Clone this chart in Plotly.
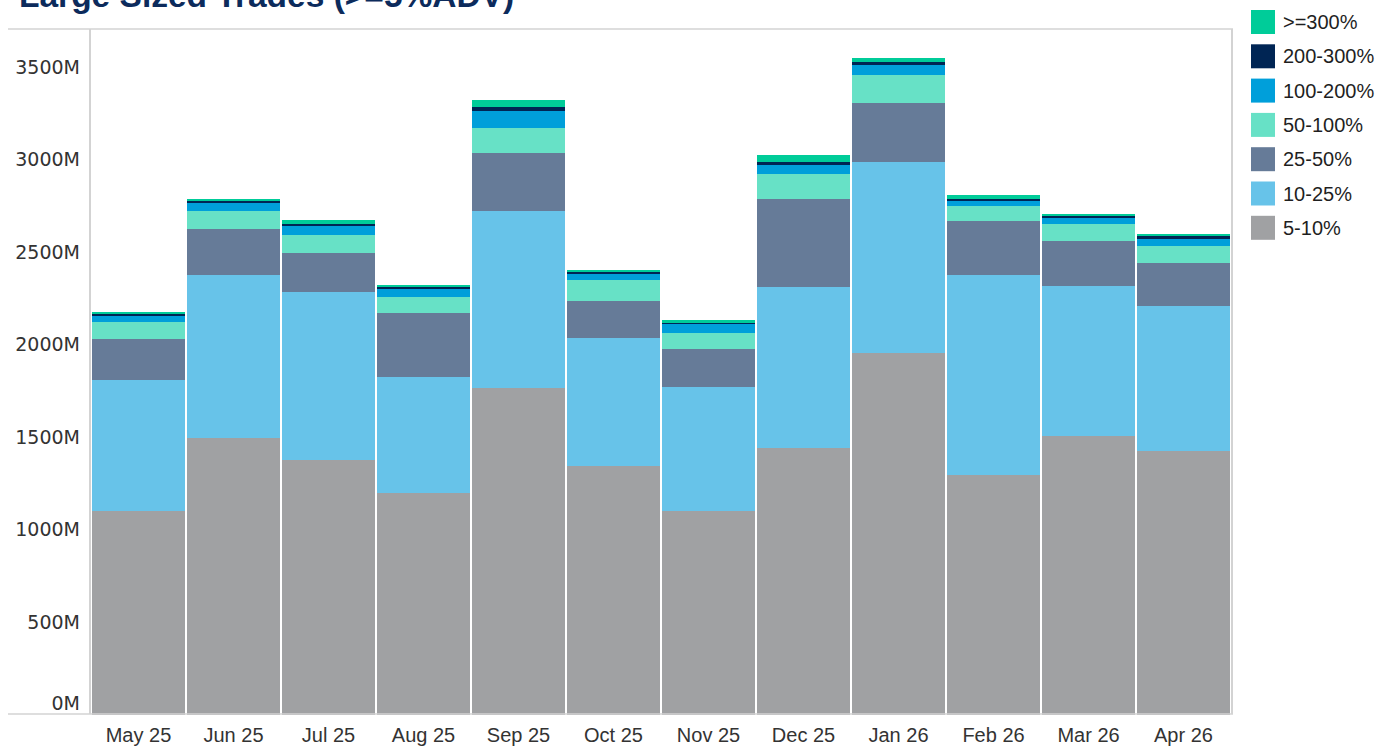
import plotly.graph_objects as go

months = ["May 25", "Jun 25", "Jul 25", "Aug 25", "Sep 25", "Oct 25",
          "Nov 25", "Dec 25", "Jan 26", "Feb 26", "Mar 26", "Apr 26"]

band_names = ["5-10%", "10-25%", "25-50%", "50-100%", "100-200%", "200-300%", ">=300%"]
s5_10 = [1100, 1496, 1377, 1197, 1767, 1345, 1100, 1442, 1954, 1296, 1507, 1426]
s10_25 = [708, 880, 907, 627, 955, 690, 670, 869, 1032, 1080, 809, 782]
s25_50 = [222, 248, 211, 346, 313, 200, 206, 475, 319, 292, 243, 233]
s50_100 = [92, 98, 97, 87, 135, 114, 86, 136, 152, 81, 92, 91]
s100_200 = [32, 48, 49, 43, 92, 37, 49, 48, 54, 27, 38, 44]
s200_300 = [11, 6, 10, 11, 22, 6, 11, 16, 16, 10, 6, 10]
s300 = [11, 10, 22, 11, 38, 11, 10, 38, 22, 22, 10, 11]
series = [s5_10, s10_25, s25_50, s50_100, s100_200, s200_300, s300]

colors = ["#A0A1A3", "#67C3E9", "#667B98", "#67E1C6", "#009FDA", "#002554", "#00CC99"]

y_ticks = [0, 500, 1000, 1500, 2000, 2500, 3000, 3500]
y_tick_labels = [f"{v}M" for v in y_ticks]

title_text = "Large Sized Trades (>=5%ADV)"

W, H = 1390, 748
L, R, T, B = 91, 1231, 29, 715


def px(x):
    return (x - L) / (R - L)


def py(y):
    return (B - y) / (B - T)


fig = go.Figure()
for name, vals, col in zip(band_names, series, colors):
    fig.add_trace(go.Bar(x=months, y=vals, name=name, marker_color=col,
                         marker_line_width=0, showlegend=False))
# invisible helper so the overlay axis (carrying the shifted "0M" label) is drawn
fig.add_trace(go.Scatter(x=months[:1], y=y_ticks[:1], yaxis="y2", mode="markers",
                         marker=dict(opacity=0), hoverinfo="skip", showlegend=False))

shapes = []
annotations = []
# frame lines
line_col = "#d3d3d3"
shapes.append(dict(type="line", xref="paper", yref="paper", x0=px(8), x1=px(1233),
                   y0=py(29), y1=py(29), line=dict(color=line_col, width=1.5)))
shapes.append(dict(type="line", xref="paper", yref="paper", x0=px(8), x1=px(1233),
                   y0=py(714), y1=py(714), line=dict(color=line_col, width=1.5)))
shapes.append(dict(type="line", xref="paper", yref="paper", x0=px(90), x1=px(90),
                   y0=py(29), y1=py(714), line=dict(color=line_col, width=2)))
shapes.append(dict(type="line", xref="paper", yref="paper", x0=px(1232), x1=px(1232),
                   y0=py(29), y1=py(714), line=dict(color=line_col, width=2)))

# custom legend (top to bottom)
for i, (name, col) in enumerate(zip(band_names[::-1], colors[::-1])):
    cy = 22 + 34.3 * i
    shapes.append(dict(type="rect", xref="paper", yref="paper",
                       x0=px(1251), x1=px(1275), y0=py(cy + 12), y1=py(cy - 12),
                       fillcolor=col, line=dict(width=0)))
    annotations.append(dict(text=name, xref="paper", yref="paper", x=px(1281), y=py(cy),
                            xanchor="left", yanchor="middle", showarrow=False,
                            font=dict(family="Arial, Liberation Sans", size=20, color="#1f1f1f")))

annotations.append(dict(text=f"<b>{title_text}</b>", xref="paper", yref="paper",
                        x=px(17), y=py(-5), xanchor="left", yanchor="middle", showarrow=False,
                        font=dict(family="Arial, Liberation Sans", size=33.5, color="#0C2B5C")))

y_range = [0, (B - T) / 0.18516]
tick_font = dict(family="DejaVu Sans", size=19, color="#333333")

fig.update_layout(
    width=W, height=H, autosize=False,
    margin=dict(l=L, r=W - R, t=T, b=H - B, pad=0, autoexpand=False),
    barmode="stack", bargap=0.016,
    plot_bgcolor="white", paper_bgcolor="white",
    shapes=shapes, annotations=annotations,
    xaxis=dict(showgrid=False, showline=False, zeroline=False, ticks="",
               tickfont=dict(family="Arial, Liberation Sans", size=20, color="#333333"),
               ticklabelstandoff=6,
               range=[-0.5, 11.5], fixedrange=True, automargin=False),
    yaxis=dict(showgrid=False, showline=False, zeroline=False, ticks="",
               range=y_range, tickvals=y_ticks[1:], ticktext=y_tick_labels[1:],
               tickfont=tick_font,
               ticklabelstandoff=10, fixedrange=True, automargin=False),
    yaxis2=dict(overlaying="y", side="left", showgrid=False, showline=False, zeroline=False,
                ticks="", range=y_range, tickvals=y_ticks[:1], ticktext=y_tick_labels[:1],
                tickfont=tick_font, ticklabelstandoff=10, ticklabelshift=-12,
                fixedrange=True, automargin=False),
)

fig.write_html("out.html",
               config={"displayModeBar": False, "responsive": False},
               post_script="document.body.style.margin='0';document.body.style.padding='0';")
